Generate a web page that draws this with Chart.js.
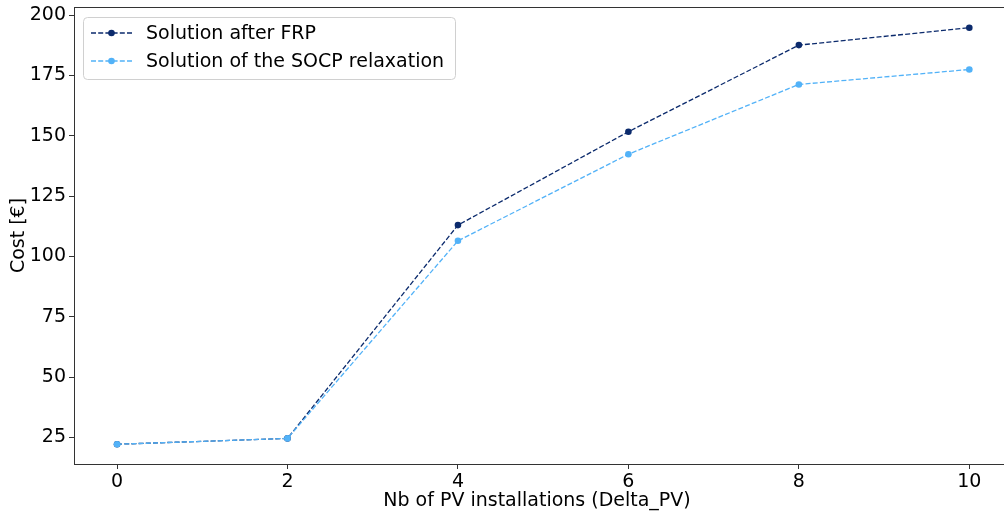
<!DOCTYPE html>
<html>
<head>
<meta charset="utf-8">
<script src="https://cdn.jsdelivr.net/npm/chart.js@4.4.1/dist/chart.umd.min.js"></script>
<style>
  html, body { margin: 0; padding: 0; background: #fff; overflow: hidden; }
  #wrap { width: 1004px; height: 514px; }
</style>
</head>
<body>
<div id="wrap"><canvas id="costChart" width="1004" height="514"></canvas></div>
<script>
// données
const nbPV = [0, 2, 4, 6, 8, 10];
const costFRP = [22.2, 24.6, 113.0, 151.7, 187.6, 194.8];
const costSOCP = [22.2, 24.6, 106.5, 142.4, 171.3, 177.5];
const xTicks = [0, 2, 4, 6, 8, 10];
const yTicks = [25, 50, 75, 100, 125, 150, 175, 200];
const seriesNames = ['Solution after FRP', 'Solution of the SOCP relaxation'];

const FONT = 'DejaVu Sans';
const colorFRP = '#0b2a6c';
const colorSOCP = '#52b2f8';

// cadre + légende façon matplotlib
const framePlugin = {
    id: 'frame',
    afterDraw(chart) {
        const ctx = chart.ctx;
        const a = chart.chartArea;
        ctx.save();
        ctx.strokeStyle = '#333';
        ctx.lineWidth = 1;
        ctx.strokeRect(a.left + 0.5, a.top + 0.5, a.right - a.left + 10, a.bottom - a.top);

        // boîte de légende
        const bx = 83.5, by = 17.5, bw = 372, bh = 62, r = 4;
        ctx.beginPath();
        ctx.moveTo(bx + r, by);
        ctx.arcTo(bx + bw, by, bx + bw, by + bh, r);
        ctx.arcTo(bx + bw, by + bh, bx, by + bh, r);
        ctx.arcTo(bx, by + bh, bx, by, r);
        ctx.arcTo(bx, by, bx + bw, by, r);
        ctx.closePath();
        ctx.fillStyle = 'rgba(255,255,255,0.8)';
        ctx.fill();
        ctx.strokeStyle = '#d0d0d0';
        ctx.stroke();

        const colors = [colorFRP, colorSOCP];
        ctx.font = '19px "' + FONT + '"';
        ctx.textBaseline = 'middle';
        seriesNames.forEach(function (name, i) {
            const y = 33 + i * 28;
            ctx.strokeStyle = colors[i];
            ctx.lineWidth = 1.3;
            ctx.setLineDash([5, 2.2]);
            ctx.beginPath();
            ctx.moveTo(91, y);
            ctx.lineTo(132, y);
            ctx.stroke();
            ctx.setLineDash([]);
            ctx.fillStyle = colors[i];
            ctx.beginPath();
            ctx.arc(111.5, y, 3.3, 0, Math.PI * 2);
            ctx.fill();
            ctx.fillStyle = '#000';
            ctx.fillText(name, 146, y + 1);
        });
        ctx.restore();
    }
};

const ctx = document.getElementById('costChart').getContext('2d');
new Chart(ctx, {
    type: 'line',
    data: {
        datasets: [
            {
                label: seriesNames[0],
                data: nbPV.map((x, i) => ({ x: x, y: costFRP[i] })),
                borderColor: colorFRP,
                backgroundColor: colorFRP,
                borderWidth: 1.3,
                borderDash: [5, 2.2],
                pointRadius: 3.3,
                pointBorderWidth: 0,
                fill: false,
                tension: 0,
                order: 1,
            },
            {
                label: seriesNames[1],
                data: nbPV.map((x, i) => ({ x: x, y: costSOCP[i] })),
                borderColor: colorSOCP,
                backgroundColor: colorSOCP,
                borderWidth: 1.3,
                borderDash: [5, 2.2],
                pointRadius: 3.3,
                pointBorderWidth: 0,
                fill: false,
                tension: 0,
                order: 0,
            },
        ],
    },
    options: {
        responsive: false,
        animation: false,
        layout: { padding: { top: 7, right: 0, left: 0, bottom: 0 } },
        plugins: {
            legend: { display: false },
            tooltip: { enabled: false },
        },
        scales: {
            x: {
                type: 'linear',
                min: -0.505,
                max: 10.36,
                afterBuildTicks: (s) => { s.ticks = xTicks.map(v => ({ value: v })); },
                afterFit: (s) => { s.height = 50; s.paddingLeft = 0; s.paddingRight = 0; },
                grid: { drawOnChartArea: false, tickLength: 5, color: '#333', tickWidth: 1 },
                border: { display: false },
                ticks: { color: '#000', font: { family: FONT, size: 19 }, padding: 2, maxRotation: 0 },
                title: {
                    display: true,
                    text: 'Nb of PV installations (Delta_PV)',
                    color: '#000',
                    font: { family: FONT, size: 19 },
                    padding: { top: 0, bottom: 2 },
                },
            },
            y: {
                min: 14.0,
                max: 203.4,
                afterBuildTicks: (s) => { s.ticks = yTicks.map(v => ({ value: v })); },
                afterFit: (s) => { s.width = 74; s.paddingTop = 0; s.paddingBottom = 0; },
                grid: { drawOnChartArea: false, tickLength: 5, color: '#333', tickWidth: 1 },
                border: { display: false },
                ticks: { color: '#000', font: { family: FONT, size: 19 }, padding: 3 },
                title: {
                    display: true,
                    text: 'Cost [€]',
                    color: '#000',
                    font: { family: FONT, size: 19 },
                    padding: { top: 8, bottom: 0 },
                },
            },
        },
    },
    plugins: [framePlugin],
});
</script>
</body>
</html>
